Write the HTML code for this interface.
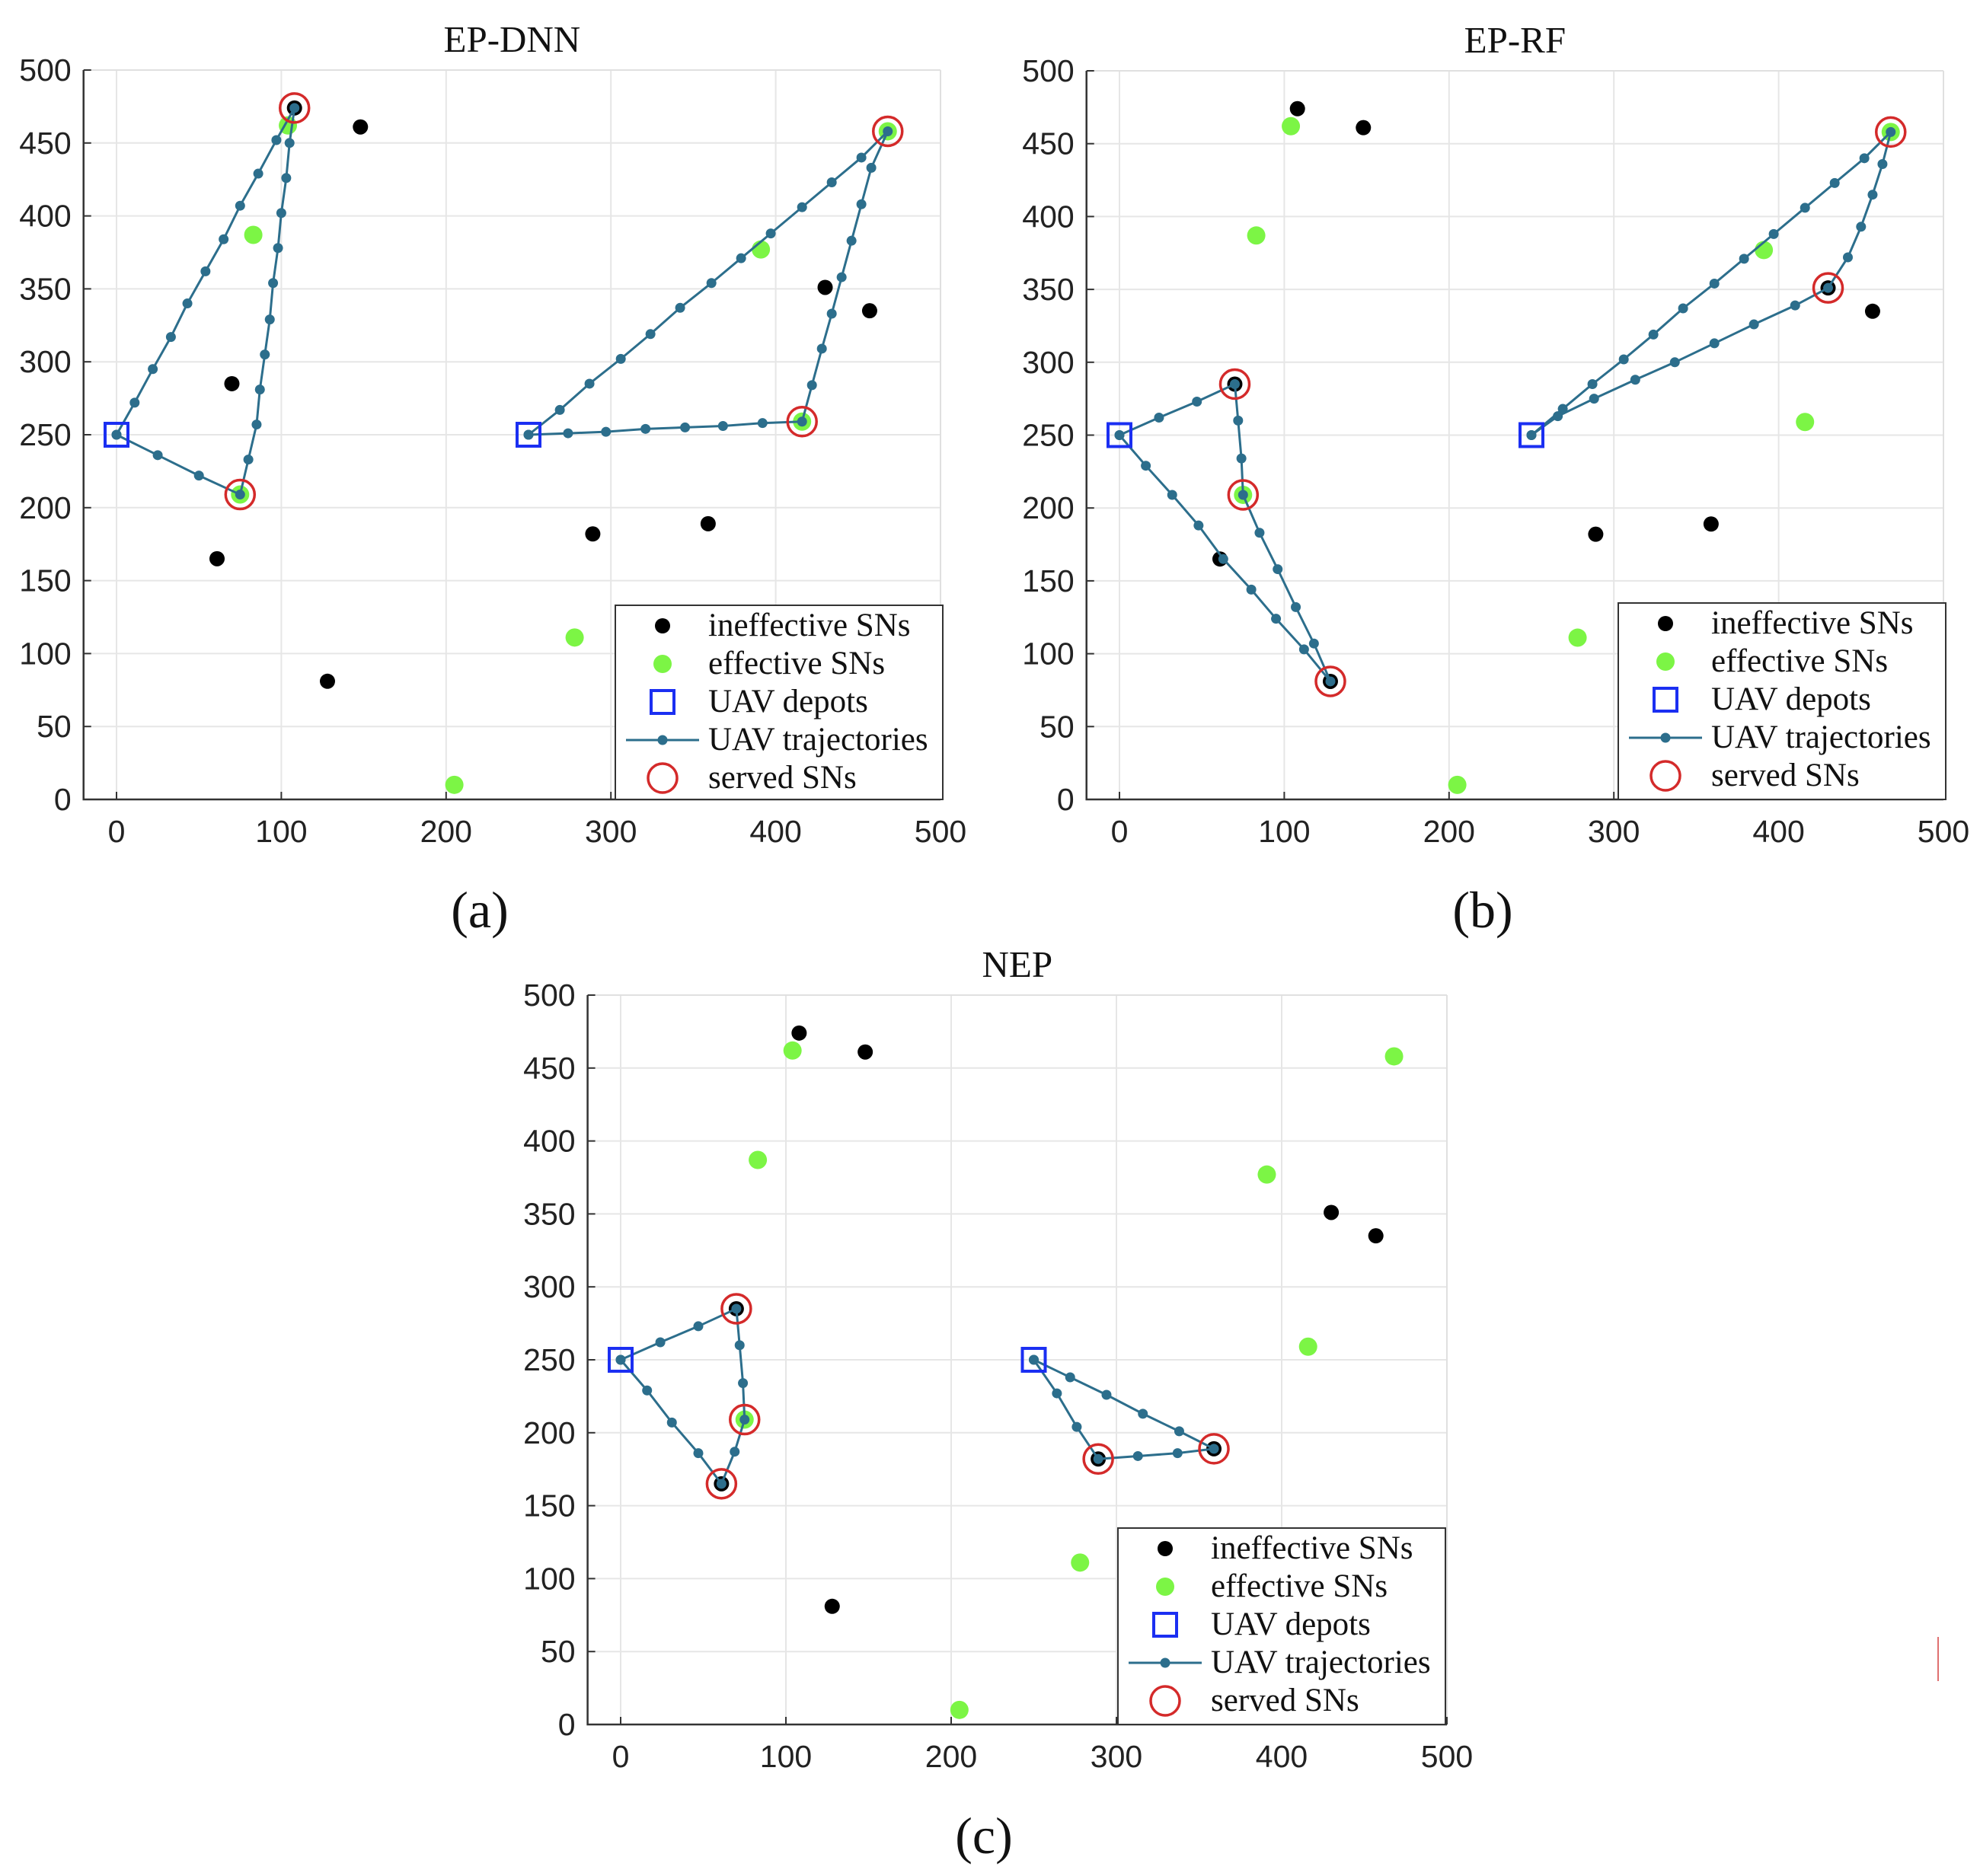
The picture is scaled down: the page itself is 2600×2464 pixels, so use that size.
<!DOCTYPE html>
<html><head><meta charset="utf-8"><style>
html,body{margin:0;padding:0;background:#fff}
svg{display:block}
.tk{font-family:"Liberation Sans",sans-serif;font-size:41px;fill:#222}
.sf{font-family:"Liberation Serif",serif;fill:#111}
</style></head><body>
<svg id="fig" width="2600" height="2464" viewBox="0 0 2600 2464" xmlns="http://www.w3.org/2000/svg"></svg>
<script>
// Shared sensor-node data
const ineffX=[108,148,70,61,128,289,359,430,457];
const ineffY=[474,461,285,165,81,182,189,351,335];
const effX=[104,83,75,205,278,391,416,468];
const effY=[462,387,209,10,111,377,259,458];
const depotX=[0,250];
const depotY=[250,250];
const xTicks=[0,100,200,300,400,500];
const yTicks=[0,50,100,150,200,250,300,350,400,450,500];
// EP-DNN
const aR1x=[0,11,22,33,43,54,65,75,86,97,108,105,103,100,98,95,93,90,87,85,80,75,50,25,0];
const aR1y=[250,272,295,317,340,362,384,407,429,452,474,450,426,402,378,354,329,305,281,257,233,209,222,236,250];
const aR2x=[250,274,297,321,345,368,392,416,422,428,434,440,446,452,458,468,452,434,416,397,379,361,342,324,306,287,269,250];
const aR2y=[250,251,252,254,255,256,258,259,284,309,333,358,383,408,433,458,440,423,406,388,371,354,337,319,302,285,267,250];
const aServX=[108,75,468,416];
const aServY=[474,209,458,259];
// EP-RF
const bR1x=[0,24,47,70,72,74,75,85,96,107,118,128,112,95,80,63,48,32,16,0];
const bR1y=[250,262,273,285,260,234,209,183,158,132,107,81,103,124,144,165,188,209,229,250];
const bR2x=[250,269,287,306,324,342,361,379,397,416,434,452,468,463,457,450,442,430,410,385,361,337,313,288,266,250];
const bR2y=[250,268,285,302,319,337,354,371,388,406,423,440,458,436,415,393,372,351,339,326,313,300,288,275,263,250];
const bServX=[70,75,128,430,468];
const bServY=[285,209,81,351,458];
// NEP
const cR1x=[0,24,47,70,72,74,75,69,61,47,31,16,0];
const cR1y=[250,262,273,285,260,234,209,187,165,186,207,229,250];
const cR2x=[250,272,294,316,338,359,337,313,289,276,264,250];
const cR2y=[250,238,226,213,201,189,186,184,182,204,227,250];
const cServX=[70,75,61,289,359];
const cServY=[285,209,165,182,189];

const NS='http://www.w3.org/2000/svg';
const svg=document.getElementById('fig');
function mk(tag,attrs,parent){const e=document.createElementNS(NS,tag);for(const k in attrs)e.setAttribute(k,attrs[k]);(parent||svg).appendChild(e);return e;}
const LC='#2c6e8c';

function panel(p){
  const g=mk('g',{});
  
  
  const sx=v=>p.x0+(v)*(p.x500-p.x0)/500;
  const sy=v=>p.y0-(v)*(p.y0-p.y500)/500;
  const L=sx(-20),R=sx(500),T=sy(500),B=sy(0);
  xTicks.forEach(t=>{const l=mk('line',{x1:sx(t),x2:sx(t),y1:T,y2:B,stroke:'#e6e6e6','stroke-width':2},g);});
  yTicks.forEach(t=>{const l=mk('line',{x1:L,x2:R,y1:sy(t),y2:sy(t),stroke:'#e6e6e6','stroke-width':2},g);});
  mk('line',{x1:L,x2:R,y1:T,y2:T,stroke:'#e0e0e0','stroke-width':2},g);
  mk('line',{x1:R,x2:R,y1:T,y2:B,stroke:'#e0e0e0','stroke-width':2},g);
  const ax=mk('path',{d:`M${L},${T}V${B}H${R}`,fill:'none',stroke:'#333','stroke-width':2.5},g);
  
  yTicks.forEach(t=>{mk('line',{x1:L,x2:L+10,y1:sy(t),y2:sy(t),stroke:'#333','stroke-width':2},g);
    const tx=mk('text',{x:L-16,y:sy(t)+14,'text-anchor':'end',class:'tk'},g);tx.textContent=t;
    });
  xTicks.forEach(t=>{mk('line',{x1:sx(t),x2:sx(t),y1:B,y2:B-10,stroke:'#333','stroke-width':2},g);
    const tx=mk('text',{x:sx(t),y:B+56,'text-anchor':'middle',class:'tk'},g);tx.textContent=t;
    });
  const ti=mk('text',{x:(L+R)/2,y:T-24,'text-anchor':'middle',class:'sf','font-size':49},g);ti.textContent=p.title;
  
  const lb=mk('text',{x:p.lx,y:p.ly,'text-anchor':'middle',class:'sf','font-size':68},g);lb.textContent=p.label;
  
  ineffX.forEach((v,i)=>{const c=mk('circle',{cx:sx(v),cy:sy(ineffY[i]),r:10,fill:'#000'},g);});
  effX.forEach((v,i)=>{const c=mk('circle',{cx:sx(v),cy:sy(effY[i]),r:12,fill:'#7cf545'},g);});
  p.routes.forEach(r=>{
    const d=r[0].map((v,i)=>(i?'L':'M')+sx(v)+','+sy(r[1][i])).join('');
    const pa=mk('path',{d,fill:'none',stroke:LC,'stroke-width':3},g);
    
    r[0].forEach((v,i)=>{const c=mk('circle',{cx:sx(v),cy:sy(r[1][i]),r:6.5,fill:LC},g);});
  });
  depotX.forEach((v,i)=>{const s=mk('rect',{x:sx(v)-15,y:sy(depotY[i])-15,width:30,height:30,fill:'none',stroke:'#1b2ff2','stroke-width':4},g);});
  p.serv[0].forEach((v,i)=>{const c=mk('circle',{cx:sx(v),cy:sy(p.serv[1][i]),r:19,fill:'none',stroke:'#d42a2a','stroke-width':3.5},g);});
  const lg=mk('g',{},g);
  mk('rect',{x:p.lgx,y:p.lgy,width:430,height:B-p.lgy,fill:'#fff',stroke:'#333','stroke-width':2},lg);
  const names=['ineffective SNs','effective SNs','UAV depots','UAV trajectories','served SNs'];
  names.forEach((n,i)=>{
    const yy=p.lgy+27+i*50, xx=p.lgx+62;
    if(i==0)mk('circle',{cx:xx,cy:yy,r:10,fill:'#000'},lg);
    if(i==1)mk('circle',{cx:xx,cy:yy,r:12,fill:'#7cf545'},lg);
    if(i==2)mk('rect',{x:xx-15,y:yy-15,width:30,height:30,fill:'none',stroke:'#1b2ff2','stroke-width':4},lg);
    if(i==3){mk('line',{x1:xx-48,x2:xx+48,y1:yy,y2:yy,stroke:LC,'stroke-width':3},lg);mk('circle',{cx:xx,cy:yy,r:6.5,fill:LC},lg);}
    if(i==4)mk('circle',{cx:xx,cy:yy,r:19,fill:'none',stroke:'#d42a2a','stroke-width':3.5},lg);
    const t=mk('text',{x:p.lgx+122,y:yy+13,class:'sf','font-size':43},lg);t.textContent=n;
    
  });
}
panel({name:'panel-ep-dnn',title:'EP-DNN',label:'(a)',x0:153,x500:1235,y0:1050,y500:92,lx:630,ly:1218,lgx:808,lgy:795,
  routes:[[aR1x,aR1y],[aR2x,aR2y]],serv:[aServX,aServY]});
panel({name:'panel-ep-rf',title:'EP-RF',label:'(b)',x0:1470,x500:2552,y0:1050,y500:93,lx:1947,ly:1218,lgx:2125,lgy:792,
  routes:[[bR1x,bR1y],[bR2x,bR2y]],serv:[bServX,bServY]});
panel({name:'panel-nep',title:'NEP',label:'(c)',x0:815,x500:1900,y0:2265,y500:1307,lx:1292,ly:2434,lgx:1468,lgy:2007,
  routes:[[cR1x,cR1y],[cR2x,cR2y]],serv:[cServX,cServY]});
const rm=mk('line',{x1:2545,x2:2545,y1:2150,y2:2208,stroke:'#e07070','stroke-width':2});


</script>
</body></html>
